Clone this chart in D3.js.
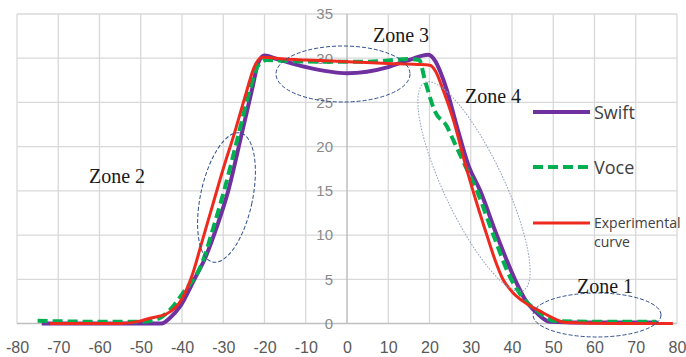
<!DOCTYPE html>
<html>
<head>
<meta charset="utf-8">
<script src="https://cdn.jsdelivr.net/npm/d3@7"></script>
<style>
  html, body { margin: 0; padding: 0; background: #fff; }
  svg { display: block; }
</style>
</head>
<body>
<svg id="chart" width="686" height="357"></svg>
<script>
// ---- data ----
const xTicks = [-80, -70, -60, -50, -40, -30, -20, -10, 0, 10, 20, 30, 40, 50, 60, 70, 80];
const yTicks = [0, 5, 10, 15, 20, 25, 30, 35];

const swiftX = [-74, -60, -50, -45, -43, -40.5, -37, -34.3, -31.5, -28.8, -25.5, -23, -21.5, -20, -17, -10, 0, 10, 15, 19.7, 21.5, 22.5, 24.2, 26.5, 29.5, 32.3, 36.3, 40.7, 43.2, 46, 49.2, 60, 75.3];
const swiftY = [0, 0, 0, 0, 0.6, 1.9, 5, 7.5, 11, 15, 21.5, 26.5, 29.5, 30.3, 29.9, 29, 28.3, 29, 29.8, 30.4, 29.6, 28.6, 26.4, 22.5, 17.8, 15, 10, 5, 2.7, 1.2, 0.2, 0.1, 0.1];

const voceX = [-75, -60, -50, -46, -43, -40, -35, -32.3, -29.8, -26.5, -23.5, -21.5, -19.5, -15, -5, 5, 15, 17.5, 18.9, 21.3, 24.2, 25.8, 28.5, 31.5, 35.5, 39.8, 42.5, 46.8, 50, 60, 75];
const voceY = [0.3, 0.2, 0.2, 0.5, 1.5, 3.3, 7, 11, 15, 21, 26.5, 29.2, 29.8, 29.7, 29.6, 29.6, 29.9, 29.8, 27.5, 24, 22.3, 20.7, 18, 15, 10, 5, 3, 1.2, 0.3, 0.2, 0.2];

const expX = [-72, -60, -55, -50, -47.8, -43.7, -40, -37.5, -35.3, -32.5, -30, -27.3, -24.5, -22.5, -20.5, -15, -10, 0, 10, 17, 20.1, 21.5, 23.3, 25.8, 28.8, 31.2, 33.9, 35.8, 37.8, 40, 42.7, 46.8, 50, 53, 65, 79];
const expY = [0, 0, 0, 0.3, 0.6, 1.1, 2.8, 5.5, 9, 13.5, 17.5, 21.5, 26, 29, 30.1, 29.9, 29.8, 29.6, 29.4, 29.3, 29.2, 28.5, 26.4, 23, 17.8, 14, 10, 7.3, 5, 3.6, 2.5, 1.4, 0.6, 0.1, 0, 0];

const seriesNames = ["Swift", "Voce", "Experimental", "curve"];
const zoneLabels = ["Zone 1", "Zone 2", "Zone 3", "Zone 4"];

// ---- drawing ----
const svg = d3.select("#chart");
svg.append("rect").attr("width", 686).attr("height", 357).attr("fill", "#fff");

const x = d3.scaleLinear().domain([-80, 80]).range([17, 677]);
const y = d3.scaleLinear().domain([0, 35]).range([323.5, 14]);

// gridlines
const grid = svg.append("g");
grid.selectAll("line.h").data(yTicks.filter(d => d > 0)).enter().append("line")
  .attr("x1", x(-80)).attr("x2", x(80))
  .attr("y1", d => y(d)).attr("y2", d => y(d))
  .attr("stroke", "#d9d9d9").attr("stroke-width", 1.3);
grid.selectAll("line.v").data(xTicks.filter(d => d !== 0)).enter().append("line")
  .attr("x1", d => x(d)).attr("x2", d => x(d))
  .attr("y1", y(0)).attr("y2", y(35))
  .attr("stroke", "#d9d9d9").attr("stroke-width", 1.3);

// axis lines
svg.append("line").attr("x1", x(-80)).attr("x2", x(80)).attr("y1", y(0)).attr("y2", y(0))
  .attr("stroke", "#bfbfbf").attr("stroke-width", 1.5);
svg.append("line").attr("x1", x(0)).attr("x2", x(0)).attr("y1", y(0)).attr("y2", y(35))
  .attr("stroke", "#bfbfbf").attr("stroke-width", 1.5);

// axes labels
const xAxis = svg.append("g").attr("transform", `translate(0,${y(0)})`)
  .call(d3.axisBottom(x).tickValues(xTicks).tickSize(0).tickPadding(18).tickFormat(d => String(d)));
xAxis.select(".domain").remove();
xAxis.selectAll("text").attr("font-family", "'Liberation Sans', Arial, sans-serif")
  .attr("font-size", 16).attr("fill", "#595959");

const yAxis = svg.append("g").attr("transform", `translate(${x(0)},0)`)
  .call(d3.axisLeft(y).tickValues(yTicks).tickSize(0).tickPadding(14).tickFormat(d => String(d)));
yAxis.select(".domain").remove();
yAxis.selectAll("text").attr("font-family", "'Liberation Sans', Arial, sans-serif")
  .attr("font-size", 15).attr("fill", "#8a8a8a");

// lines
const line = d3.line().x(d => x(d[0])).y(d => y(d[1])).curve(d3.curveMonotoneX);
const zip = (a, b) => a.map((v, i) => [v, b[i]]);

svg.append("path").datum(zip(swiftX, swiftY)).attr("d", line)
  .attr("fill", "none").attr("stroke", "#7030a0").attr("stroke-width", 4).attr("stroke-linejoin", "round");
svg.append("path").datum(zip(voceX, voceY)).attr("d", line)
  .attr("fill", "none").attr("stroke", "#00b050").attr("stroke-width", 4).attr("stroke-dasharray", "10,5");
svg.append("path").datum(zip(expX, expY)).attr("d", line)
  .attr("fill", "none").attr("stroke", "#ee2a1e").attr("stroke-width", 3).attr("stroke-linejoin", "round");

// ellipses (annotations)
const ell = svg.append("g").attr("fill", "none");
ell.append("ellipse").attr("cx", 343).attr("cy", 74).attr("rx", 67).attr("ry", 28)
  .attr("stroke", "#2f4f8f").attr("stroke-width", 1).attr("stroke-dasharray", "4,2");
ell.append("ellipse").attr("cx", 226.5).attr("cy", 197.5).attr("rx", 26).attr("ry", 66)
  .attr("transform", "rotate(12,226.5,197.5)")
  .attr("stroke", "#2f4f8f").attr("stroke-width", 1).attr("stroke-dasharray", "4,2");
ell.append("ellipse").attr("cx", 597).attr("cy", 315).attr("rx", 64).attr("ry", 22)
  .attr("stroke", "#2f4f8f").attr("stroke-width", 1).attr("stroke-dasharray", "4,2");
ell.append("ellipse").attr("cx", 474).attr("cy", 186.5).attr("rx", 30).attr("ry", 115)
  .attr("transform", "rotate(-25.3,474,186.5)")
  .attr("stroke", "#8c9cbc").attr("stroke-width", 1).attr("stroke-dasharray", "1.5,1.5");

// zone labels
const zonePos = [[577, 293], [89, 183], [373, 42], [465, 103]];
svg.selectAll("text.zone").data(zoneLabels).enter().append("text")
  .attr("x", (d, i) => zonePos[i][0]).attr("y", (d, i) => zonePos[i][1])
  .attr("font-family", "'Liberation Serif', 'Times New Roman', serif")
  .attr("font-size", 20).attr("fill", "#1a1a1a").text(d => d);

// legend
const lg = svg.append("g");
lg.append("line").attr("x1", 533).attr("x2", 590).attr("y1", 112).attr("y2", 112)
  .attr("stroke", "#7030a0").attr("stroke-width", 4);
lg.append("line").attr("x1", 533).attr("x2", 590).attr("y1", 167).attr("y2", 167)
  .attr("stroke", "#00b050").attr("stroke-width", 4).attr("stroke-dasharray", "10,5");
lg.append("line").attr("x1", 533).attr("x2", 590).attr("y1", 223).attr("y2", 223)
  .attr("stroke", "#ee2a1e").attr("stroke-width", 3);
const lf = "'Open Sans', 'Noto Sans', sans-serif";
lg.append("text").attr("x", 594).attr("y", 119).attr("font-family", lf).attr("font-size", 18).attr("fill", "#404040").text(seriesNames[0]);
lg.append("text").attr("x", 594).attr("y", 174).attr("font-family", lf).attr("font-size", 18).attr("fill", "#404040").text(seriesNames[1]);
lg.append("text").attr("x", 594).attr("y", 228).attr("font-family", lf).attr("font-size", 14).attr("fill", "#404040").text(seriesNames[2]);
lg.append("text").attr("x", 594).attr("y", 247).attr("font-family", lf).attr("font-size", 14).attr("fill", "#404040").text(seriesNames[3]);
</script>
</body>
</html>
